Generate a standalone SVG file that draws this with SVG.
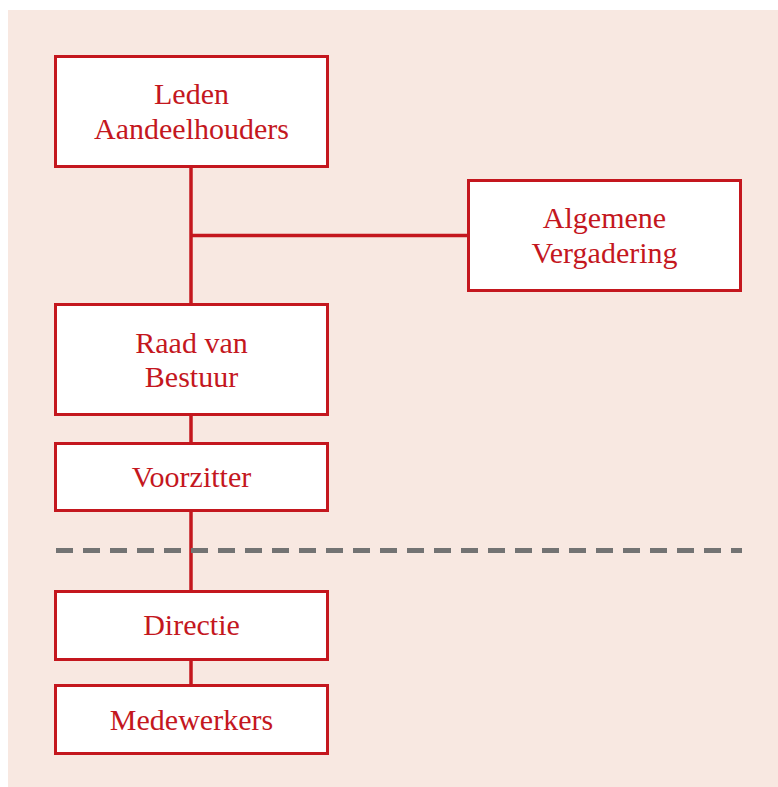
<svg xmlns="http://www.w3.org/2000/svg" width="778" height="787" viewBox="0 0 778 787">
<style>
.box{fill:#ffffff;stroke:#c4171e;stroke-width:3}
.lbl{font-family:"Liberation Serif","DejaVu Serif",serif;font-size:30px;fill:#c4171e;text-anchor:middle}
.con{stroke:#c4171e;stroke-width:3.5;fill:none}
.sep{stroke:#737373;stroke-width:5;stroke-dasharray:17 10;fill:none}
</style>
<rect x="8" y="10" width="770" height="777" fill="#f8e8e1"/>
<g id="connectors">
<line class="con" x1="191" y1="168" x2="191" y2="303"/>
<line class="con" x1="191" y1="235.5" x2="467" y2="235.5"/>
<line class="con" x1="191" y1="416" x2="191" y2="442"/>
<line class="con" x1="191" y1="512" x2="191" y2="590"/>
<line class="con" x1="191" y1="661" x2="191" y2="684"/>
</g>
<line class="sep" x1="56" y1="550.5" x2="742" y2="550.5"/>
<g id="leden">
<rect class="box" x="55.5" y="56.5" width="272" height="110"/>
<text class="lbl" x="191.5" y="104">Leden</text>
<text class="lbl" x="191.5" y="139">Aandeelhouders</text>
</g>
<g id="algemene">
<rect class="box" x="468.5" y="180.5" width="272" height="110"/>
<text class="lbl" x="604.5" y="227.5">Algemene</text>
<text class="lbl" x="604.5" y="263">Vergadering</text>
</g>
<g id="raad">
<rect class="box" x="55.5" y="304.5" width="272" height="110"/>
<text class="lbl" x="191.5" y="352.5">Raad van</text>
<text class="lbl" x="191.5" y="387">Bestuur</text>
</g>
<g id="voorzitter">
<rect class="box" x="55.5" y="443.5" width="272" height="67"/>
<text class="lbl" x="191.5" y="487">Voorzitter</text>
</g>
<g id="directie">
<rect class="box" x="55.5" y="591.5" width="272" height="68"/>
<text class="lbl" x="191.5" y="634.5">Directie</text>
</g>
<g id="medewerkers">
<rect class="box" x="55.5" y="685.5" width="272" height="68"/>
<text class="lbl" x="191.5" y="730">Medewerkers</text>
</g>
</svg>
